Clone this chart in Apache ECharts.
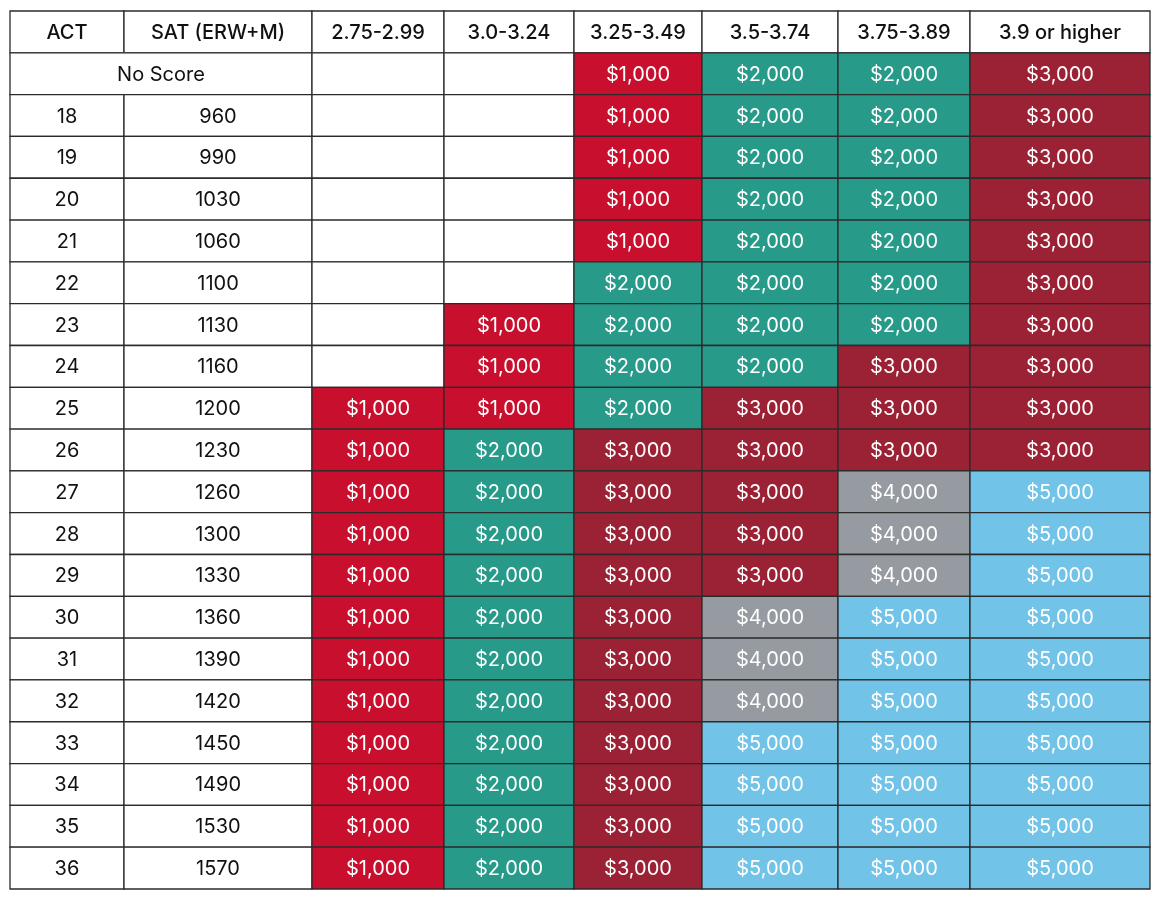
<!DOCTYPE html>
<html><head><meta charset="utf-8">
<script src="https://cdn.jsdelivr.net/npm/echarts@6/dist/echarts.min.js"></script>
<style>html,body{margin:0;padding:0;background:#fff}#c{width:1160px;height:900px}</style>
</head><body><div id="c"></div>
<script>
// ---- data ----
const headers = ['ACT', 'SAT (ERW+M)', '2.75-2.99', '3.0-3.24', '3.25-3.49', '3.5-3.74', '3.75-3.89', '3.9 or higher'];
const actScores = ['No Score', '18', '19', '20', '21', '22', '23', '24', '25', '26', '27', '28', '29', '30', '31', '32', '33', '34', '35', '36'];
const satScores = [null, 960, 990, 1030, 1060, 1100, 1130, 1160, 1200, 1230, 1260, 1300, 1330, 1360, 1390, 1420, 1450, 1490, 1530, 1570];
// award amounts per GPA band, one value per score row (null = no award)
const gpa275 = [null, null, null, null, null, null, null, null, 1000, 1000, 1000, 1000, 1000, 1000, 1000, 1000, 1000, 1000, 1000, 1000];
const gpa300 = [null, null, null, null, null, null, 1000, 1000, 1000, 2000, 2000, 2000, 2000, 2000, 2000, 2000, 2000, 2000, 2000, 2000];
const gpa325 = [1000, 1000, 1000, 1000, 1000, 2000, 2000, 2000, 2000, 3000, 3000, 3000, 3000, 3000, 3000, 3000, 3000, 3000, 3000, 3000];
const gpa350 = [2000, 2000, 2000, 2000, 2000, 2000, 2000, 2000, 3000, 3000, 3000, 3000, 3000, 4000, 4000, 4000, 5000, 5000, 5000, 5000];
const gpa375 = [2000, 2000, 2000, 2000, 2000, 2000, 2000, 3000, 3000, 3000, 4000, 4000, 4000, 5000, 5000, 5000, 5000, 5000, 5000, 5000];
const gpa390 = [3000, 3000, 3000, 3000, 3000, 3000, 3000, 3000, 3000, 3000, 5000, 5000, 5000, 5000, 5000, 5000, 5000, 5000, 5000, 5000];
const awardColumns = [gpa275, gpa300, gpa325, gpa350, gpa375, gpa390];

// ---- layout / style ----
const colWidths = [114, 188, 132, 130, 128, 136, 132, 180];
const colEdges = [0];
colWidths.forEach(w => colEdges.push(colEdges[colEdges.length - 1] + w));
const totalWidth = colEdges[colEdges.length - 1];
const rowCount = actScores.length + 1;
const awardColors = { 1000: '#c8102e', 2000: '#279a89', 3000: '#9b2135', 4000: '#959ba1', 5000: '#71c3e8' };
const FONT = '20px Inter, "Noto Sans", sans-serif';
const HEAD_FONT = '500 20px Inter, "Noto Sans", sans-serif';

// build cells: [col, row, colspan]
const cells = [];
const cellInfo = [];
function addCell(col, row, span, text, fill, color, font) {
  cells.push([col, row, span]);
  cellInfo.push({ text: text, fill: fill, color: color, font: font || FONT });
}
headers.forEach((h, i) => addCell(i, 0, 1, h, '#ffffff', '#111', HEAD_FONT));
actScores.forEach((a, r) => {
  const row = r + 1;
  if (satScores[r] === null) {
    addCell(0, row, 2, a, '#ffffff', '#111');
  } else {
    addCell(0, row, 1, a, '#ffffff', '#111');
    addCell(1, row, 1, String(satScores[r]), '#ffffff', '#111');
  }
  awardColumns.forEach((colVals, ci) => {
    const v = colVals[r];
    if (v === null) addCell(ci + 2, row, 1, '', '#ffffff', '#111');
    else addCell(ci + 2, row, 1, '$' + v.toLocaleString('en-US'), awardColors[v], '#ffffff');
  });
});

const chart = echarts.init(document.getElementById('c'), null, { renderer: 'canvas' });
chart.setOption({
  animation: false,
  grid: { left: 10, top: 11, width: 1140, height: 878 },
  xAxis: { type: 'value', min: 0, max: totalWidth, show: false },
  yAxis: { type: 'value', min: 0, max: rowCount, inverse: true, show: false },
  series: [{
    type: 'custom',
    data: cells,
    renderItem: function (params, api) {
      const col = api.value(0), row = api.value(1), span = api.value(2);
      const p0 = api.coord([colEdges[col], row]);
      const p1 = api.coord([colEdges[col + span], row + 1]);
      const info = cellInfo[params.dataIndex];
      return {
        type: 'rect',
        shape: { x: p0[0], y: p0[1], width: p1[0] - p0[0], height: p1[1] - p0[1] },
        style: { fill: info.fill, stroke: '#2b2b2b', lineWidth: 1.3 },
        textContent: {
          style: { text: info.text, fill: info.color, font: info.font, align: 'center', verticalAlign: 'middle' }
        },
        textConfig: { position: 'inside', offset: [0, 1] }
      };
    }
  }]
});
</script>
</body></html>
